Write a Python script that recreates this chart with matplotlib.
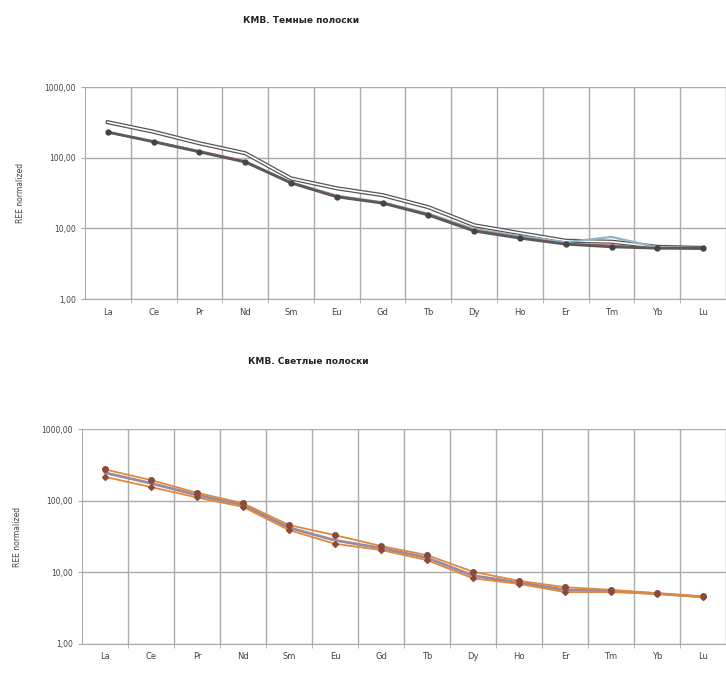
import matplotlib
matplotlib.use("Agg")
import matplotlib.pyplot as plt
from matplotlib.ticker import FixedLocator, FixedFormatter

elements = ["La", "Ce", "Pr", "Nd", "Sm", "Eu", "Gd", "Tb", "Dy", "Ho", "Er", "Tm", "Yb", "Lu"]

# KMB, dark stripes
dark_upper = [318, 233, 160, 116, 51, 37, 29.6, 20, 11.1, 8.6, 6.7, 6.5, 5.5, 5.3]
dark_main = [230, 168, 121, 87, 44, 28, 22.8, 15.5, 9.2, 7.3, 6.0, 5.5, 5.26, 5.3]
dark_red = [228, 170, 125, 90, 45, 29, 23.2, 16.0, 9.5, 7.5, 6.1, 5.8, 5.2, 5.3]
dark_blue = [232, 172, 123, 88, 45, 29, 23.5, 16.2, 9.8, 7.8, 6.4, 7.6, 5.4, 5.3]

# KMB, light stripes
light_upper = [273, 194, 129, 92, 45.7, 33, 23.3, 17.4, 10.2, 7.6, 6.2, 5.7, 5.1, 4.6]
light_lower = [215, 155, 111, 82, 38.9, 25, 20.5, 14.8, 8.25, 6.9, 5.3, 5.3, 5.0, 4.5]
light_mid = [245, 175, 120, 87, 42, 28, 21.8, 16.0, 9.0, 7.2, 5.7, 5.5, 5.05, 4.55]

yticks = [1, 10, 100, 1000]
ylabels = ["1,00", "10,00", "100,00", "1000,00"]

fig = plt.figure(figsize=(7.26, 6.8), dpi=100)

def setup(ax, title, title_x, title_y):
    x = list(range(len(elements)))
    ax.set_yscale("log")
    ax.set_ylim(1, 1000)
    ax.set_xlim(-0.5, len(elements) - 0.5)
    ax.yaxis.set_major_locator(FixedLocator(yticks))
    ax.yaxis.set_major_formatter(FixedFormatter(ylabels))
    ax.yaxis.set_minor_locator(FixedLocator([]))
    ax.set_xticks(x)
    ax.set_xticklabels(elements)
    ax.set_xticks([i + 0.5 for i in x], minor=True)
    ax.grid(True, axis="y", which="major", color="#ababab", lw=1.0)
    ax.grid(True, axis="x", which="minor", color="#ababab", lw=1.0)
    ax.tick_params(axis="x", which="major", length=0, labelsize=6, colors="#444444", pad=6)
    ax.tick_params(axis="x", which="minor", length=3, color="#ababab")
    ax.tick_params(axis="y", length=3, color="#ababab", labelsize=5.5, labelcolor="#444444")
    for s in ["top", "right"]:
        ax.spines[s].set_visible(False)
    for s in ["left", "bottom"]:
        ax.spines[s].set_color("#ababab")
    ax.set_ylabel("REE normalized", fontsize=5.5, color="#444444", labelpad=14)
    fig.text(title_x, title_y, title, fontsize=6.5, fontweight="bold", color="#222222",
             ha="center", va="center")
    return x

ax1 = fig.add_axes([0.117, 0.560, 0.883, 0.312])
x = setup(ax1, "КМВ. Темные полоски", 0.415, 0.970)
ax1.plot(x, dark_upper, color="#555555", lw=3.0, zorder=3)
ax1.plot(x, dark_upper, color="white", lw=1.2, zorder=3)
ax1.plot(x, dark_blue, color="#8fb4c8", lw=1.6, zorder=3)
ax1.plot(x, dark_red, color="#c86464", lw=1.2, zorder=3)
ax1.plot(x, dark_main, color="#5a5a5a", lw=2.0, marker="o", ms=3.5, mfc="#444444", mec="#444444", zorder=4)

ax2 = fig.add_axes([0.113, 0.053, 0.887, 0.316])
x = setup(ax2, "КМВ. Светлые полоски", 0.425, 0.468)
ax2.plot(x, light_mid, color="#9a8aa0", lw=2.0, zorder=3)
ax2.plot(x, light_upper, color="#e0883c", lw=1.3, marker="o", ms=4, mfc="#8b4a3a", mec="#8b4a3a", zorder=4)
ax2.plot(x, light_lower, color="#e0883c", lw=1.3, marker="D", ms=3, mfc="#8b4a3a", mec="#8b4a3a", zorder=4)

fig.savefig("out.png", dpi=100)
